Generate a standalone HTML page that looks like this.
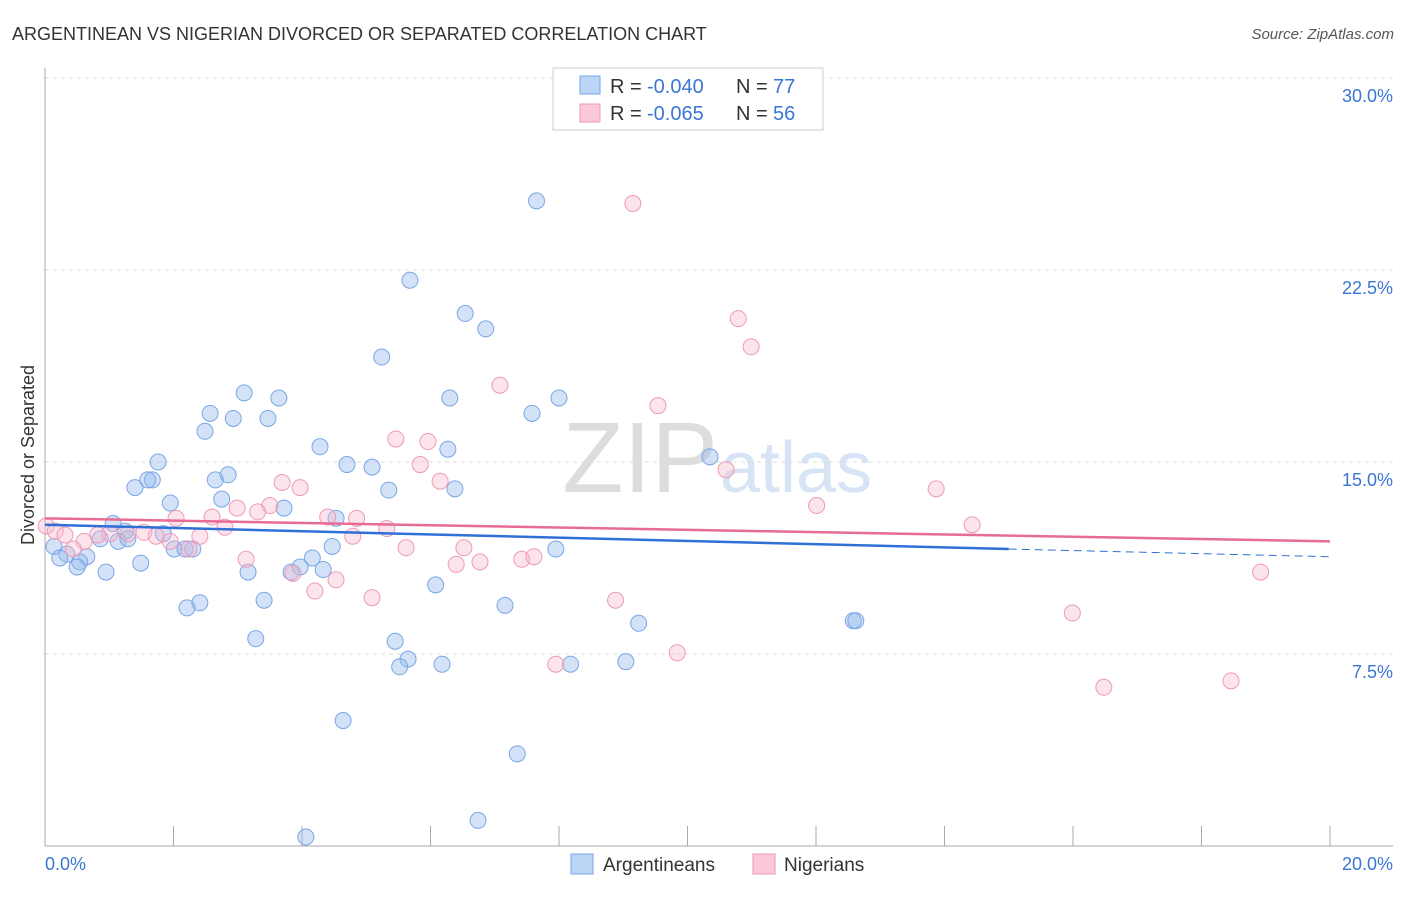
<!DOCTYPE html>
<html><head><meta charset="utf-8"><style>
body{margin:0;background:#fff;font-family:"Liberation Sans",sans-serif}
svg text{font-family:"Liberation Sans",sans-serif}
</style></head><body>
<svg id="c" width="1406" height="892">
<text x="12" y="40" font-size="18" fill="#333">ARGENTINEAN VS NIGERIAN DIVORCED OR SEPARATED CORRELATION CHART</text>
<text x="1394" y="39" font-size="15" fill="#555" text-anchor="end" font-style="italic">Source: ZipAtlas.com</text>
<text x="718" y="492" font-size="100" fill="#ddd" text-anchor="end" font-family="Liberation Serif">ZIP</text>
<text x="720" y="492" font-size="72" fill="#d6e4f5">atlas</text>
<g id="grid"></g><g id="pts"></g><g id="trend"></g>
<text transform="translate(34,455) rotate(-90)" font-size="18" fill="#333" text-anchor="middle">Divorced or Separated</text>
<g>
<rect x="553" y="68" width="270" height="62" fill="#fff" stroke="#ccc"/>
<rect x="580" y="76" width="20" height="18" fill="#bcd4f5" stroke="#7aa6e6"/>
<rect x="580" y="104" width="20" height="18" fill="#fbc9d8" stroke="#ef9ab5"/>
<text x="610" y="93" font-size="20" fill="#333">R =</text>
<text x="647" y="93" font-size="20" fill="#3a76d4">-0.040</text>
<text x="736" y="93" font-size="20" fill="#333">N =</text>
<text x="773" y="93" font-size="20" fill="#3a76d4">77</text>
<text x="610" y="120" font-size="20" fill="#333">R =</text>
<text x="647" y="120" font-size="20" fill="#3a76d4">-0.065</text>
<text x="736" y="120" font-size="20" fill="#333">N =</text>
<text x="773" y="120" font-size="20" fill="#3a76d4">56</text>
</g>
<g>
<rect x="571" y="854" width="22" height="20" fill="#bcd4f5" stroke="#7aa6e6"/>
<text x="603" y="871" font-size="19" fill="#333">Argentineans</text>
<rect x="753" y="854" width="22" height="20" fill="#fbc9d8" stroke="#ef9ab5"/>
<text x="784" y="871" font-size="19" fill="#333">Nigerians</text>
</g>
</svg>
<script>
const yTicks=[7.5,15,22.5,30];
const yTickLabels=["7.5%","15.0%","22.5%","30.0%"];
const blueX=[7.65,5.68,6.54,6.86,5.24,3.10,3.64,6.30,8.00,2.57,3.47,2.93,7.58,2.49,4.28,6.27,1.76,4.70,5.09,2.85,2.65,1.40,1.67,1.60,5.35,6.38,10.35,1.95,2.75,3.72,1.06,4.53,1.25,1.84,0.86,1.14,1.29,0.14,4.47,7.95,0.34,0.65,0.23,2.01,2.18,2.30,4.16,0.54,1.49,3.97,0.50,0.95,3.16,4.33,3.83,6.08,3.41,2.41,2.21,7.16,9.24,12.58,12.62,3.28,5.45,5.65,5.52,6.18,8.18,9.04,4.64,7.35,6.74,4.06];
const blueY=[25.2,22.1,20.8,20.2,19.1,17.7,17.5,17.5,17.5,16.9,16.7,16.7,16.9,16.2,15.6,15.5,15.0,14.9,14.8,14.5,14.3,14.0,14.3,14.3,13.9,13.95,15.2,13.4,13.55,13.2,12.6,12.8,12.3,12.2,12.0,11.9,12.0,11.7,11.7,11.6,11.4,11.3,11.25,11.6,11.6,11.6,11.25,11.1,11.05,10.9,10.9,10.7,10.7,10.8,10.7,10.2,9.6,9.5,9.3,9.4,8.7,8.8,8.8,8.1,8.0,7.3,7.0,7.1,7.1,7.2,4.9,3.6,1.0,0.35];
const pinkX=[9.15,10.79,10.99,7.08,9.54,5.46,5.96,5.84,10.60,6.15,3.69,3.97,13.87,3.50,2.99,3.31,12.01,2.04,2.60,4.85,4.40,14.43,2.80,5.32,1.54,1.01,0.82,4.79,1.73,1.95,0.61,2.41,1.29,2.24,6.52,5.62,0.44,3.13,6.77,6.40,7.42,7.61,3.86,4.53,4.20,5.09,8.88,18.92,15.99,7.95,9.84,16.48,18.46,0.02,0.16,0.31];
const pinkY=[25.1,20.6,19.5,18.0,17.2,15.9,15.8,14.9,14.7,14.25,14.2,14.0,13.95,13.3,13.2,13.05,13.3,12.8,12.85,12.8,12.85,12.55,12.45,12.4,12.25,12.2,12.15,12.1,12.1,11.9,11.9,12.1,12.2,11.6,11.65,11.65,11.6,11.2,11.1,11.0,11.2,11.3,10.65,10.4,9.96,9.7,9.6,10.7,9.1,7.1,7.55,6.2,6.45,12.5,12.3,12.15];
const blueTrend=[12.55,11.6,11.3], pinkTrend=[12.8,11.9];
const X=v=>45+v/20*1285, Y=v=>846-v/7.5*192;
const NS="http://www.w3.org/2000/svg";
function mk(t,a,p){const e=document.createElementNS(NS,t);for(const k in a)e.setAttribute(k,a[k]);p.appendChild(e);return e;}
const g=document.getElementById('grid');
yTicks.forEach((t,i)=>{
 const l=mk('line',{x1:45,x2:1393,y1:Y(t),y2:Y(t),stroke:'#ddd','stroke-dasharray':'4,4'},g);
 
 
 const tx=mk('text',{x:1393,y:Y(t)+24,'font-size':18,fill:'#3a76d4','text-anchor':'end'},g);
 tx.textContent=yTickLabels[i];
 
 
});
mk('line',{x1:45,x2:45,y1:68,y2:846,stroke:'#aaa'},g);
mk('line',{x1:45,x2:1393,y1:846,y2:846,stroke:'#aaa'},g);
for(let i=1;i<=10;i++){const l=mk('line',{x1:X(i*2),x2:X(i*2),y1:826,y2:846,stroke:'#aaa'},g);
 
 }
let t1=mk('text',{x:45,y:870,'font-size':18,fill:'#3a76d4'},g);t1.textContent='0.0%';


let t2=mk('text',{x:1393,y:870,'font-size':18,fill:'#3a76d4','text-anchor':'end'},g);t2.textContent='20.0%';


const p=document.getElementById('pts');
blueX.forEach((x,i)=>{const c=mk('circle',{cx:X(x),cy:Y(blueY[i]),r:8,fill:'rgba(150,186,235,0.42)',stroke:'#7aa6e6','stroke-width':1},p);
 
 });
pinkX.forEach((x,i)=>{const c=mk('circle',{cx:X(x),cy:Y(pinkY[i]),r:8,fill:'rgba(248,185,205,0.38)',stroke:'#ef9ab5','stroke-width':1},p);
 
 });
const tr=document.getElementById('trend');
let b1=mk('line',{x1:X(0),y1:Y(blueTrend[0]),x2:X(15),y2:Y(blueTrend[1]),stroke:'#2f6fd6','stroke-width':2.5},tr);


let b2=mk('line',{x1:X(15),y1:Y(blueTrend[1]),x2:X(20),y2:Y(blueTrend[2]),stroke:'#2f6fd6','stroke-width':1,'stroke-dasharray':'8,5'},tr);


let p1=mk('line',{x1:X(0),y1:Y(pinkTrend[0]),x2:X(20),y2:Y(pinkTrend[1]),stroke:'#e86b94','stroke-width':2.5},tr);


</script>
</body></html>
